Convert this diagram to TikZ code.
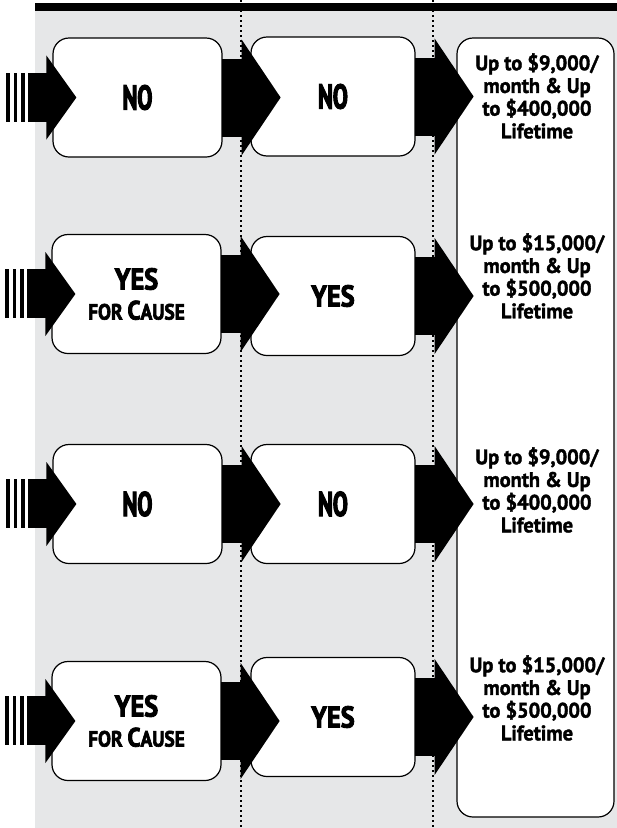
\documentclass[tikz,border=0pt]{standalone}
\usepackage{fontspec}
\usetikzlibrary{calc}
\setmainfont{PT Sans}
\newfontfamily\nof{PT Sans}[FakeStretch=0.65, BoldFeatures={FakeBold=3}]
\newfontfamily\yesf{PT Sans}[FakeStretch=0.88, BoldFeatures={FakeBold=3}]
\newfontfamily\resf{PT Sans}[FakeStretch=0.97, BoldFeatures={FakeBold=1.8}]
\definecolor{bggray}{HTML}{E6E7E8}
\tikzset{
  stepbox/.style={draw=black,line width=1.2pt,fill=white,rounded corners=16pt,
    minimum height=119pt,inner sep=0pt,align=center},
  boxA/.style={stepbox,minimum width=169pt},
  boxB/.style={stepbox,minimum width=164pt},
  notext/.style={font=\nof\bfseries\fontsize{34.5}{33}\selectfont},
  yestext/.style={font=\yesf\bfseries\fontsize{30}{33}\selectfont},
  restext/.style={inner sep=0pt,align=center,font=\resf\bfseries\fontsize{21}{22.7}\selectfont},
  dotline/.style={line width=1.8pt,dash pattern=on 1.8pt off 3.2pt},
}
\newcommand{\forcause}{{\fontsize{22}{33}\selectfont FOR }{\fontsize{26.5}{33}\selectfont C}{\fontsize{22}{33}\selectfont AUSE}}
\begin{document}
\begin{tikzpicture}[x=1pt,y=-1pt]
\useasboundingbox (0,0) rectangle (617,828);
% background
\fill[bggray] (35,10) rectangle (617,828);
% dotted column separators
\draw[dotline] (241,0) -- (241,828);
\draw[dotline] (433,0) -- (433,828);
% top bar
\fill[black] (35,3) rectangle (617,11);
% result column
\node[draw=black,line width=1.2pt,fill=white,rounded corners=16pt,minimum width=157pt,minimum height=779pt,inner sep=0pt] (res) at (535.5,427.5) {};
% step boxes
\node[boxA,notext] (a1) at (137.5,97.5) {NO};
\node[boxB,notext] (b1) at (333,96.5) {NO};
\node[boxA,yestext] (a2) at (136.5,294) {YES\\[-3pt]\forcause};
\node[boxB,yestext] (b2) at (333,296) {YES};
\node[boxA,notext] (a3) at (137.5,504) {NO};
\node[boxB,notext] (b3) at (333,504) {NO};
\node[boxA,yestext] (a4) at (136.5,721) {YES\\[-3pt]\forcause};
\node[boxB,yestext] (b4) at (333,717) {YES};
% arrows
\foreach \r in {1,2,3,4}{
  % incoming striped arrow
  \fill ($(a\r.west)+(-46,-25)$) rectangle ($(a\r.west)+(-42.5,24)$);
  \fill ($(a\r.west)+(-38.5,-25)$) rectangle ($(a\r.west)+(-35,24)$);
  \fill ($(a\r.west)+(-31,-25)$) rectangle ($(a\r.west)+(-27.5,24)$);
  \fill ($(a\r.west)+(-24,-25)$) rectangle ($(a\r.west)+(-5,24)$);
  \fill ($(a\r.west)+(-6,-42)$) -- ($(a\r.west)+(24,0)$) -- ($(a\r.west)+(-6,42)$) -- cycle;
  % box A -> box B
  \fill ($(a\r.east)+(-1,-39)$) rectangle ($(a\r.east)+(20,39)$);
  \fill ($(a\r.east)+(19,-58)$) -- ($(a\r.east)+(58,0)$) -- ($(a\r.east)+(19,58)$) -- cycle;
  % box B -> result
  \fill ($(b\r.east)+(-1,-39)$) rectangle ($(b\r.east)+(20,39)$);
  \fill ($(b\r.east)+(19,-58)$) -- ($(b\r.east)+(58,0)$) -- ($(b\r.east)+(19,58)$) -- cycle;
}
% result texts
\node[restext] (r1) at (537,96) {Up to \$9,000/\\month \& Up\\to \$400,000\\Lifetime};
\node[restext] (r2) at (537,276) {Up to \$15,000/\\month \& Up\\to \$500,000\\Lifetime};
\node[restext] (r3) at (537,490) {Up to \$9,000/\\month \& Up\\to \$400,000\\Lifetime};
\node[restext] (r4) at (537,698) {Up to \$15,000/\\month \& Up\\to \$500,000\\Lifetime};
\end{tikzpicture}
\end{document}
